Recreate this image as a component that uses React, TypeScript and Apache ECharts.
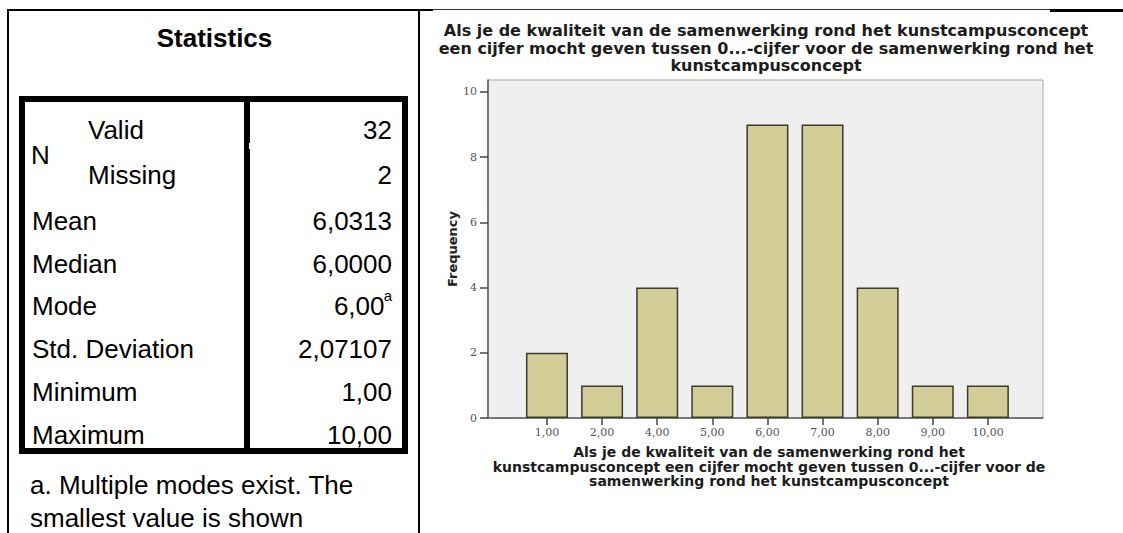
import React, { useEffect, useRef } from "react";
import * as echarts from "echarts";

// ---------- data ----------
const categories = ["1,00", "2,00", "4,00", "5,00", "6,00", "7,00", "8,00", "9,00", "10,00"];
const frequencies = [2, 1, 4, 1, 9, 9, 4, 1, 1];
const yTicks = [0, 2, 4, 6, 8, 10];

const tableTitle = "Statistics";
const nGroupLabel = "N";
const nLabels = ["Valid", "Missing"];
const nValues = ["32", "2"];
const statLabels = ["Mean", "Median", "Mode", "Std. Deviation", "Minimum", "Maximum"];
const statValues = ["6,0313", "6,0000", "6,00", "2,07107", "1,00", "10,00"];
const modeMark = "a";
const footnoteLines = ["a. Multiple modes exist. The", "smallest value is shown"];

const chartTitleLines = [
  "Als je de kwaliteit van de samenwerking rond het kunstcampusconcept",
  "een cijfer mocht geven tussen 0...-cijfer voor de samenwerking rond het",
  "kunstcampusconcept",
];
const xAxisTitleLines = [
  "Als je de kwaliteit van de samenwerking rond het",
  "kunstcampusconcept een cijfer mocht geven tussen 0...-cijfer voor de",
  "samenwerking rond het kunstcampusconcept",
];
const yAxisTitle = "Frequency";

// ---------- layout ----------
const PLOT_LEFT = 488;
const PLOT_RIGHT = 1043;
const PLOT_TOP = 80;
const PLOT_BOTTOM = 418;
const Y_TOP_VALUE = 10 + (92 - PLOT_TOP) / 32.65;

const TFONT = '"Liberation Sans", Arial, sans-serif';
const CFONT = '"DejaVu Sans", Verdana, sans-serif';

function tableGraphics(): any[] {
  const els: any[] = [];
  const line = (x1: number, y1: number, x2: number, y2: number, w: number, c = "#000") => ({
    type: "line",
    shape: { x1, y1, x2, y2 },
    style: { stroke: c, lineWidth: w },
    silent: true,
  });
  const txt = (text: string, x: number, y: number, align: string, size = 26, bold = false, lh?: number) => ({
    type: "text",
    style: {
      text,
      x,
      y,
      align,
      verticalAlign: "middle",
      fontFamily: TFONT,
      fontSize: size,
      fontWeight: bold ? "bold" : "normal",
      lineHeight: lh ?? size,
      fill: "#000",
    },
    silent: true,
  });

  // outer frame
  els.push(line(8, 9, 8, 533, 2));
  els.push(line(7, 10, 433, 10, 2));
  els.push(line(419, 9, 419, 533, 2));
  els.push(line(433, 9.5, 1050, 9.5, 1, "#333"));
  els.push(line(1050, 10.5, 1123, 10.5, 3));

  // thick inner table
  els.push({
    type: "rect",
    shape: { x: 22, y: 99, width: 383, height: 352 },
    style: { fill: "none", stroke: "#000", lineWidth: 6 },
    silent: true,
  });
  els.push(line(247, 99, 247, 451, 6));
  els.push({ type: "rect", shape: { x: 249, y: 143, width: 1.5, height: 6 }, style: { fill: "#fff" }, silent: true });

  els.push(txt(tableTitle, 214.5, 38, "center", 26, true));
  els.push(txt(nGroupLabel, 31, 154.5, "left"));
  const nY = [130, 174.5];
  nLabels.forEach((l, i) => {
    els.push(txt(l, 88, nY[i], "left"));
    els.push(txt(nValues[i], 392, nY[i], "right"));
  });
  statLabels.forEach((l, i) => {
    const y = 221 + 42.7 * i;
    els.push(txt(l, 32, y, "left"));
    if (l === "Mode") {
      els.push(txt(statValues[i], 384.5, y, "right"));
      els.push(txt(modeMark, 392, y - 11, "right", 15));
    } else {
      els.push(txt(statValues[i], 392, y, "right"));
    }
  });
  footnoteLines.forEach((l, i) => {
    els.push(txt(l, 30, 485 + 33 * i, "left", 26, false, 18));
  });
  return els;
}

function chartTextGraphics(): any[] {
  return [
    {
      type: "text",
      style: {
        text: chartTitleLines.join("\n"),
        x: 766,
        y: 22,
        align: "center",
        verticalAlign: "top",
        fontFamily: CFONT,
        fontWeight: "bold",
        fontSize: 16,
        lineHeight: 17.5,
        fill: "#1c1c1c",
      },
      silent: true,
    },
    {
      type: "text",
      style: {
        text: xAxisTitleLines.join("\n"),
        x: 769,
        y: 445,
        align: "center",
        verticalAlign: "top",
        fontFamily: CFONT,
        fontWeight: "bold",
        fontSize: 14,
        lineHeight: 14.5,
        fill: "#1c1c1c",
      },
      silent: true,
    },
  ];
}

export default function App() {
  const ref = useRef<HTMLDivElement>(null);
  useEffect(() => {
    if (!ref.current) return;
    const chart = echarts.init(ref.current, null, { renderer: "svg" });
    const xIdx = categories.map((_, i) => i);
    const option: any = {
      animation: false,
      backgroundColor: "#ffffff",
      grid: {
        left: PLOT_LEFT,
        top: PLOT_TOP,
        width: PLOT_RIGHT - PLOT_LEFT,
        height: PLOT_BOTTOM - PLOT_TOP,
        show: true,
        backgroundColor: "#efefef",
        borderColor: "#a8a8a8",
        borderWidth: 1,
      },
      xAxis: {
        type: "value",
        min: -1.07,
        max: 9.0,
        splitLine: { show: false },
        axisLine: { show: true, onZero: false, lineStyle: { color: "#5a5a5a", width: 1.5 } },
        axisTick: { show: true, customValues: xIdx, length: 7, lineStyle: { color: "#444", width: 1.5 } },
        axisLabel: {
          customValues: xIdx,
          formatter: (v: number) => categories[Math.round(v)] ?? "",
          fontFamily: '"DejaVu Serif", serif',
          fontSize: 11,
          color: "#555",
          margin: 9,
        },
      },
      yAxis: {
        type: "value",
        min: 0,
        max: Y_TOP_VALUE,
        name: yAxisTitle,
        nameLocation: "middle",
        nameGap: 27,
        nameRotate: 90,
        nameTextStyle: { fontFamily: CFONT, fontWeight: "bold", fontSize: 13, color: "#222" },
        splitLine: { show: false },
        axisLine: { show: true, onZero: false, lineStyle: { color: "#5a5a5a", width: 1.5 } },
        axisTick: { show: true, customValues: yTicks, length: 8, lineStyle: { color: "#444", width: 1.5 } },
        axisLabel: {
          customValues: yTicks,
          fontFamily: '"DejaVu Serif", serif',
          fontSize: 11,
          color: "#555",
          margin: 11,
        },
      },
      series: [
        {
          type: "bar",
          data: frequencies.map((v, i) => [i, v]),
          barWidth: 42,
          itemStyle: { color: "#d3ce97", borderColor: "#3a3a2e", borderWidth: 1.5 },
          silent: true,
        },
      ],
      graphic: [...tableGraphics(), ...chartTextGraphics()],
    };
    chart.setOption(option);
    return () => chart.dispose();
  }, []);
  return (
    <div
      ref={ref}
      style={{ position: "fixed", left: 0, top: 0, width: 1123, height: 533, background: "#fff" }}
    />
  );
}
